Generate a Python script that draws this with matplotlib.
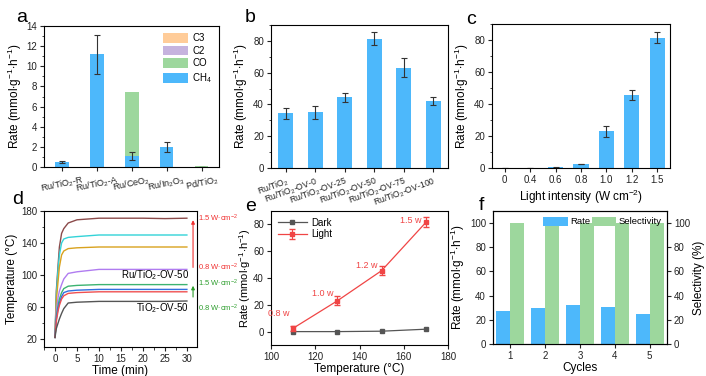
import numpy as np
import matplotlib.pyplot as plt
from matplotlib.ticker import AutoMinorLocator

plt.rcParams['font.family'] = ['Liberation Sans', 'DejaVu Sans']
plt.rcParams['mathtext.fontset'] = 'custom'
plt.rcParams['mathtext.rm'] = 'Liberation Sans'
plt.rcParams['mathtext.it'] = 'Liberation Sans:italic'
plt.rcParams['mathtext.bf'] = 'Liberation Sans:bold'
plt.rcParams['font.size'] = 7
plt.rcParams['axes.linewidth'] = 0.8
plt.rcParams['axes.labelpad'] = 2
plt.rcParams['xtick.major.width'] = 0.8
plt.rcParams['ytick.major.width'] = 0.8
plt.rcParams['xtick.major.size'] = 3
plt.rcParams['ytick.major.size'] = 3
plt.rcParams['xtick.minor.size'] = 1.8
plt.rcParams['ytick.minor.size'] = 1.8
plt.rcParams['xtick.major.pad'] = 2
plt.rcParams['ytick.major.pad'] = 2
plt.rcParams['xtick.color'] = '#222222'
plt.rcParams['ytick.color'] = '#222222'

# ---- datos ----
# panel a
cat_a = ['Ru/TiO$_2$-R', 'Ru/TiO$_2$-A', 'Ru/CeO$_2$', 'Ru/In$_2$O$_3$', 'Pd/TiO$_2$']
ch4_a = [0.45, 11.2, 1.1, 1.95, 0.0]
ch4_err_a = [0.1, 1.95, 0.4, 0.5, 0.0]
co_a = [0.0, 0.0, 6.3, 0.0, 0.1]
c2_a = [0, 0, 0, 0, 0]
c3_a = [0, 0, 0, 0, 0]

# panel b
cat_b = ['Ru/TiO$_2$', 'Ru/TiO$_2$-OV-0', 'Ru/TiO$_2$-OV-25', 'Ru/TiO$_2$-OV-50',
         'Ru/TiO$_2$-OV-75', 'Ru/TiO$_2$-OV-100']
rate_b = [34.5, 35.0, 44.5, 81.5, 63.0, 42.0]
err_b = [3.5, 4.0, 2.7, 3.8, 6.0, 2.5]

# panel c
cat_c = ['0', '0.4', '0.6', '0.8', '1.0', '1.2', '1.5']
rate_c = [0.0, 0.1, 0.5, 2.5, 23.0, 45.5, 81.5]
err_c = [0.0, 0.0, 0.2, 0.3, 3.5, 3.3, 3.5]

# panel d
t_d = [0, 0.3, 0.7, 1.0, 1.5, 2.0, 3.0, 5.0, 10, 15, 20, 25, 30]
curvas_d = {
    '#8B4A4A': [22, 80, 112, 135, 152, 158, 165, 169, 171, 171, 171, 170.5, 171],
    '#33D3D8': [22, 75, 107, 125, 140, 145, 147, 148, 150, 150, 150, 150, 150],
    '#D9A21E': [22, 68, 92, 110, 125, 130, 133, 134, 135, 135, 135, 135, 135],
    '#B07CF0': [22, 55, 72, 80, 88, 95, 102, 104, 107, 107, 107, 107, 107],
    '#3CB371': [22, 48, 62, 70, 78, 83, 86, 87, 88, 88, 88, 88, 88],
    '#3070E0': [22, 45, 58, 65, 73, 78, 80, 81, 82, 82, 82, 82, 82],
    '#F05050': [22, 42, 55, 62, 70, 74, 77, 78, 79, 79, 79, 79, 79],
    '#555555': [22, 33, 40, 45, 52, 58, 65, 66, 67, 67, 67, 67, 67.5],
}

# panel e
temp_e = [110, 130, 150, 170]
dark_e = [0.0, 0.0, 0.3, 1.8]
light_e = [2.5, 23.0, 45.5, 81.5]
light_err_e = [2.0, 3.5, 3.2, 3.8]
pot_e = ['0.8 w', '1.0 w', '1.2 w', '1.5 w']

# panel f
ciclos_f = [1, 2, 3, 4, 5]
rate_f = [27.0, 30.0, 32.5, 30.3, 24.5]
sel_f = [100, 100, 100, 100, 100]

azul = '#4DB8FB'
verde = '#9DD79D'
naranja = '#FFCC99'
morado = '#C6B3DE'
rojo = '#F04545'
err_kw = dict(ecolor='#333333', elinewidth=0.8, capsize=2, capthick=0.8)
lab_fs = 8.5

W, H = 706, 376
fig = plt.figure(figsize=(W / 100, H / 100), dpi=100)


def caja(l, r, t, b):
    return fig.add_axes([l / W, 1 - b / H, (r - l) / W, (b - t) / H])


rate_lbl = 'Rate (mmol$\\cdot$g$^{-1}$$\\cdot$h$^{-1}$)'

# ---- a ----
ax = caja(44, 219, 26, 167)
x = np.arange(1, 6)
ax.bar(x, ch4_a, 0.4, color=azul, label='CH$_4$')
ax.bar(x, co_a, 0.4, bottom=ch4_a, color=verde, label='CO')
ax.bar(x, c2_a, 0.4, color=morado, label='C2')
ax.bar(x, c3_a, 0.4, color=naranja, label='C3')
ax.errorbar(x, ch4_a, yerr=ch4_err_a, fmt='none', **err_kw)
ax.set_xlim(0.5, 5.5)
ax.set_ylim(0, 14)
ax.set_yticks(range(0, 15, 2))
ax.yaxis.set_minor_locator(AutoMinorLocator(2))
ax.set_xticks(x)
ax.set_xticklabels(cat_a, rotation=12, ha='center', fontsize=6.5)
ax.set_ylabel(rate_lbl, fontsize=lab_fs)
h, l = ax.get_legend_handles_labels()
ax.legend(h[::-1], l[::-1], loc='upper right', frameon=False, fontsize=7,
          handlelength=2.6, handleheight=1.2, labelspacing=0.25, borderaxespad=0.3,
          handletextpad=0.4)

# ---- b ----
ax = caja(271, 448, 25, 168)
x = np.arange(1, 7)
ax.bar(x, rate_b, 0.5, color=azul, yerr=err_b, error_kw=err_kw)
ax.set_xlim(0.5, 6.5)
ax.set_ylim(0, 90)
ax.set_yticks(range(0, 81, 20))
ax.yaxis.set_minor_locator(AutoMinorLocator(2))
ax.set_xticks(x)
ax.set_xticklabels(cat_b, rotation=20, ha='right', rotation_mode='anchor', fontsize=6.2)
ax.set_ylabel(rate_lbl, fontsize=lab_fs)

# ---- c ----
ax = caja(492, 670, 24, 168)
x = np.arange(len(cat_c))
ax.bar(x, rate_c, 0.6, color=azul, yerr=err_c, error_kw=err_kw)
ax.set_xlim(-0.5, 6.5)
ax.set_ylim(0, 90)
ax.set_yticks(range(0, 81, 20))
ax.yaxis.set_minor_locator(AutoMinorLocator(2))
ax.set_xticks(x)
ax.set_xticklabels(cat_c)
ax.set_xlabel('Light intensity (W cm$^{-2}$)', fontsize=lab_fs)
ax.set_ylabel(rate_lbl, fontsize=lab_fs)

# ---- d ----
ax = caja(44, 197, 211, 347)
for c, temp in curvas_d.items():
    ax.plot(t_d, temp, color=c, lw=1.0)
ax.set_xlim(-2.5, 32.3)
ax.set_ylim(10, 180)
ax.set_yticks(range(20, 181, 40))
ax.set_xticks(range(0, 31, 5))
ax.xaxis.set_minor_locator(AutoMinorLocator(2))
ax.yaxis.set_minor_locator(AutoMinorLocator(2))
ax.set_xlabel('Time (min)', fontsize=lab_fs, labelpad=0.5)
ax.set_ylabel('Temperature (°C)', fontsize=lab_fs)
ax.annotate('', xy=(31.4, 172), xytext=(31.4, 106),
            arrowprops=dict(arrowstyle='-|>', color='#F03030', lw=0.8, mutation_scale=5))
ax.annotate('', xy=(31.4, 90), xytext=(31.4, 69),
            arrowprops=dict(arrowstyle='-|>', color='#2E9E2E', lw=0.8, mutation_scale=5))
ax.text(30.5, 100, 'Ru/TiO$_2$-OV-50', ha='right', va='center', fontsize=7)
ax.text(30.5, 59, 'TiO$_2$-OV-50', ha='right', va='center', fontsize=7)
for txt, py, col in [('1.5', 218, '#F03030'), ('0.8', 267, '#F03030'),
                     ('1.5', 283, '#2E9E2E'), ('0.8', 308, '#2E9E2E')]:
    fig.text(198 / W, 1 - py / H, txt + ' W$\\cdot$cm$^{-2}$', color=col, fontsize=5.5,
             va='center')

# ---- e ----
ax = caja(271, 448, 211, 345)
ax.plot(temp_e, dark_e, '-s', color='#555555', ms=3, lw=0.9, label='Dark')
ax.errorbar(temp_e, light_e, yerr=light_err_e, fmt='-s', color=rojo, ms=3, lw=0.9,
            ecolor=rojo, elinewidth=0.8, capsize=2, label='Light')
dy_e = [11, 5.5, 4, 1.5]
for tx, ty, s, d in zip(temp_e, light_e, pot_e, dy_e):
    ax.text(tx - 1.8, ty + d, s, color=rojo, ha='right', va='center', fontsize=6.5)
ax.set_xlim(100, 180)
ax.set_ylim(-10, 90)
ax.set_yticks(range(0, 81, 20))
ax.set_xlabel('Temperature (°C)', fontsize=lab_fs, labelpad=0.5)
ax.set_ylabel(rate_lbl, fontsize=8, labelpad=0)
ax.legend(loc='upper left', frameon=False, fontsize=7, handlelength=3,
          labelspacing=0.15, borderaxespad=0.3, handletextpad=0.4)

# ---- f ----
ax = caja(493, 667, 211, 344)
x = np.array(ciclos_f)
ax.bar(x - 0.2, rate_f, 0.4, color=azul, label='Rate')
ax2 = ax.twinx()
ax2.bar(x + 0.2, sel_f, 0.4, color=verde, label='Selectivity')
ax.set_xlim(0.5, 5.5)
ax.set_ylim(0, 110)
ax2.set_ylim(0, 110)
ax.set_yticks(range(0, 101, 20))
ax2.set_yticks(range(0, 101, 20))
ax.set_xticks(x)
ax.set_xlabel('Cycles', fontsize=lab_fs, labelpad=0.5)
ax.set_ylabel(rate_lbl, fontsize=lab_fs)
ax2.set_ylabel('Selectivity (%)', fontsize=lab_fs)
h1, l1 = ax.get_legend_handles_labels()
h2, l2 = ax2.get_legend_handles_labels()
ax2.legend(h1 + h2, l1 + l2, loc='upper right', ncol=2, frameon=False, fontsize=6.8,
           handlelength=2.6, handleheight=1.1, columnspacing=0.2, handletextpad=0.2,
           borderaxespad=0.2)

# letras de panel
for letra, px, py in [('a', 22, 18), ('b', 250, 18), ('c', 471, 20),
                      ('d', 18, 200), ('e', 251, 207), ('f', 481, 206)]:
    fig.text(px / W, 1 - py / H, letra, fontsize=14, ha='center', va='center')

fig.savefig('out.png', dpi=100)
